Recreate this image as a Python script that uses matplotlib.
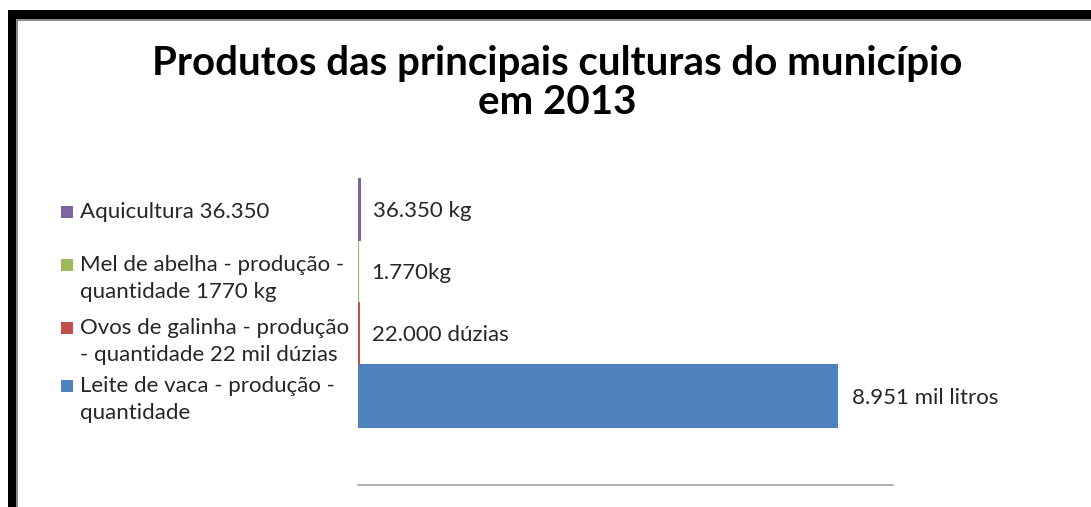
import matplotlib.pyplot as plt
from matplotlib.patches import Rectangle

# data (bottom to top, as in the chart)
categorias = ['Leite de vaca - produção -\nquantidade',
              'Ovos de galinha - produção\n- quantidade 22 mil dúzias',
              'Mel de abelha - produção -\nquantidade 1770 kg',
              'Aquicultura 36.350']
valores = [8951, 22, 1.77, 36.35]
rotulos = ['8.951 mil litros', '22.000 dúzias', '1.770kg', '36.350 kg']
cores = ['#4F81BD', '#C0504D', '#9BBB59', '#8064A2']

plt.rcParams['font.family'] = ['Lato', 'DejaVu Sans']

W, H = 1091, 507
fig = plt.figure(figsize=(W / 100, H / 100), dpi=100)
fig.patch.set_facecolor('white')

# black frame (top and left)
fig.add_artist(Rectangle((8 / W, 0), 8 / W, 1 - 10 / H, transform=fig.transFigure,
                         facecolor='black', edgecolor='none'))
fig.add_artist(Rectangle((8 / W, 1 - 19 / H), 1 - 8 / W, 9 / H, transform=fig.transFigure,
                         facecolor='black', edgecolor='none'))
fig.add_artist(Rectangle((16 / W, 0), 2 / W, 1 - 19 / H, transform=fig.transFigure,
                         facecolor='#8c8c8c', edgecolor='none'))
fig.add_artist(Rectangle((16 / W, 1 - 21 / H), 1 - 16 / W, 2 / H, transform=fig.transFigure,
                         facecolor='#8c8c8c', edgecolor='none'))

fig.text(557 / W, 1 - 63 / H, 'Produtos das principais culturas do município',
         ha='center', va='center', fontsize=29, fontweight='bold', color='black')
fig.text(557 / W, 1 - 103 / H, 'em 2013',
         ha='center', va='center', fontsize=29, fontweight='bold', color='black')

ax = fig.add_axes([358 / W, 22 / H, 535 / W, 307 / H])
pos = list(range(len(valores)))
bars = ax.barh(pos, valores, height=1.0, color=cores, edgecolor=cores, linewidth=0.8)
ax.set_xlim(0, 10000)
ax.set_ylim(-1.44, 3.5)
for i, b in enumerate(bars):
    off = 15 if valores[i] > 1000 else 13
    ax.annotate(rotulos[i], (b.get_width(), b.get_y() + b.get_height() / 2),
                xytext=(off, -2), textcoords='offset pixels', ha='left', va='center',
                fontsize=16, color='#262626')

ax.set_xticks([])
ax.set_yticks([])
for s in ['top', 'right', 'left']:
    ax.spines[s].set_visible(False)
ax.spines['bottom'].set_color('#a6a6a6')
ax.spines['bottom'].set_linewidth(1.2)

# legend, drawn on the left (top entry first)
leg_y = [212, 265, 328, 386]
for k, i in enumerate(reversed(pos)):
    y = leg_y[k]
    fig.add_artist(Rectangle((61 / W, 1 - (y + 6) / H), 12 / W, 12 / H,
                             transform=fig.transFigure, facecolor=cores[i], edgecolor='none'))
    fig.text(80 / W, 1 - (y - 10) / H, categorias[i], ha='left', va='top',
             fontsize=16, color='#262626', linespacing=1.45)

fig.savefig('out.png', dpi=100)
